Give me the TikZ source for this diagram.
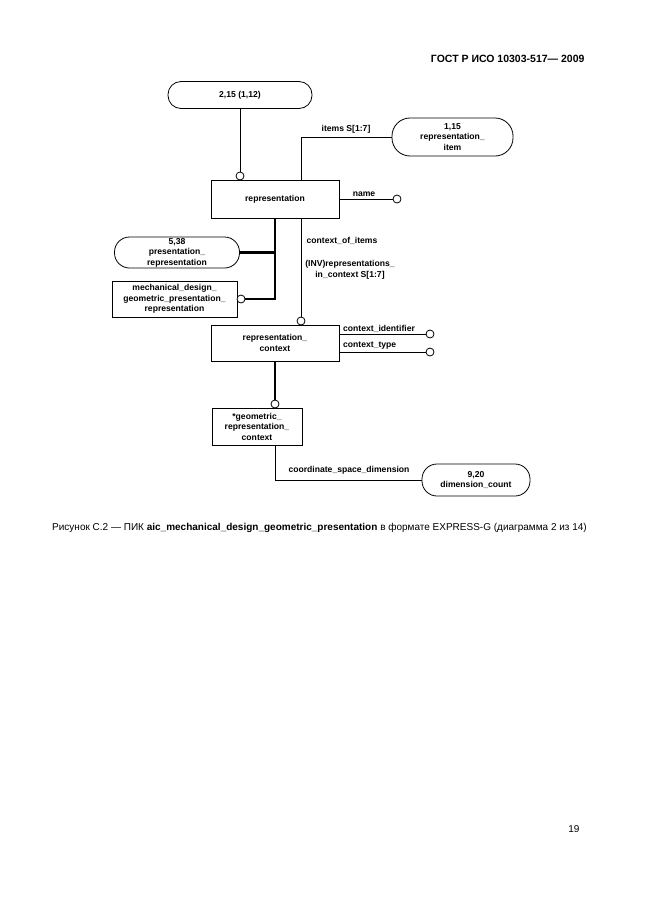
\documentclass[tikz,border=0pt]{standalone}
\usepackage{fontspec}
\setmainfont{Liberation Sans}
\usetikzlibrary{positioning,calc}

\begin{document}
\begin{tikzpicture}[x=1pt,y=-1pt,
    ent/.style={draw, line width=0.8pt, align=center, inner sep=1pt,
      font=\fontsize{8.6}{10.5}\selectfont\bfseries},
    refbox/.style={ent, rounded corners=#1},
    refbox/.default=15pt,
    lnk/.style={line width=0.8pt},
    thk/.style={line width=2.2pt},
    ring/.style={draw, circle, line width=0.8pt, fill=white, inner sep=0pt, minimum size=8pt},
    lbl/.style={font=\fontsize{8.6}{10.5}\selectfont\bfseries, inner sep=1pt}]
  \useasboundingbox (0,0) rectangle (646,913);

  % page header
  \node[anchor=base east, font=\fontsize{10.5}{12}\selectfont\bfseries] (head) at (588,62)
    {ГОСТ Р ИСО 10303-517— 2009};

  % entities
  \node[refbox=13pt, minimum width=144pt, minimum height=27pt] (top) at (240,95) {2,15 (1,12)};
  \node[ent, minimum width=128pt, minimum height=38pt] (rep) at (275,199) {representation};
  \node[refbox=18pt, minimum width=121pt, minimum height=38pt] (item) at (452.5,137)
    {1,15\\representation\_\\item};
  \node[refbox, minimum width=125pt, minimum height=31pt] (pres) at (177,252.5)
    {5,38\\presentation\_\\representation};
  \node[ent, minimum width=125pt, minimum height=36pt] (mech) at (174.5,299)
    {mechanical\_design\_\\geometric\_presentation\_\\representation};
  \node[ent, minimum width=128pt, minimum height=36pt] (ctx) at (275,343)
    {representation\_\\context};
  \node[ent, minimum width=90pt, minimum height=37pt] (geo) at (257,426.5)
    {*geometric\_\\representation\_\\context};
  \node[refbox, minimum width=108pt, minimum height=32pt] (dim) at (476,480)
    {9,20\\dimension\_count};

  % rings
  \node[ring] (r1) at (240,176) {};
  \node[ring] (r2) at (397,199) {};
  \node[ring] (r3) at (241,299) {};
  \node[ring] (r4) at (301,321) {};
  \node[ring] (r5) at (430,334) {};
  \node[ring] (r6) at (430,352) {};
  \node[ring] (r7) at (275,404) {};
  \coordinate (bend) at (301,137);

  % thin relations
  \draw[lnk] (top) -- (r1);
  \draw[lnk] (rep.north -| bend) |- (item.west);
  \draw[lnk] (rep.east) -- (r2);
  \draw[lnk] (rep.south -| bend) -- (r4);
  \draw[lnk] (r5) -- (r5 -| ctx.east);
  \draw[lnk] (r6) -- (r6 -| ctx.east);
  \draw[lnk] (geo.south -| r7) |- (dim.west);

  % subtypes
  \draw[thk] (rep.south) |- (r3);
  \draw[thk] (pres.east) -- (pres.east -| rep.south);
  \draw[thk] (ctx.south) -- (r7);

  % attribute names
  \node[lbl] (l1) at (346,129) {items S[1:7]};
  \node[lbl] (l2) at (364,194) {name};
  \node[lbl] (l3) at (342,241) {context\_of\_items};
  \node[lbl, align=center] (l4) at (350,270) {(INV)representations\_\\in\_context S[1:7]};
  \node[lbl, anchor=west] (l5) at (342,329) {context\_identifier};
  \node[lbl, anchor=west] (l6) at (342,346) {context\_type};
  \node[lbl] (l7) at (349,470) {coordinate\_space\_dimension};

  % caption and page number
  \node[anchor=base, font=\fontsize{10}{12}\selectfont] (cap) at (319.5,530)
    {Рисунок С.2 — ПИК \textbf{aic\_mechanical\_design\_geometric\_presentation} в формате EXPRESS-G (диаграмма 2 из 14)};
  \node[anchor=base east, font=\fontsize{10}{12}\selectfont] (pg) at (583,832) {19};
\end{tikzpicture}
\end{document}
